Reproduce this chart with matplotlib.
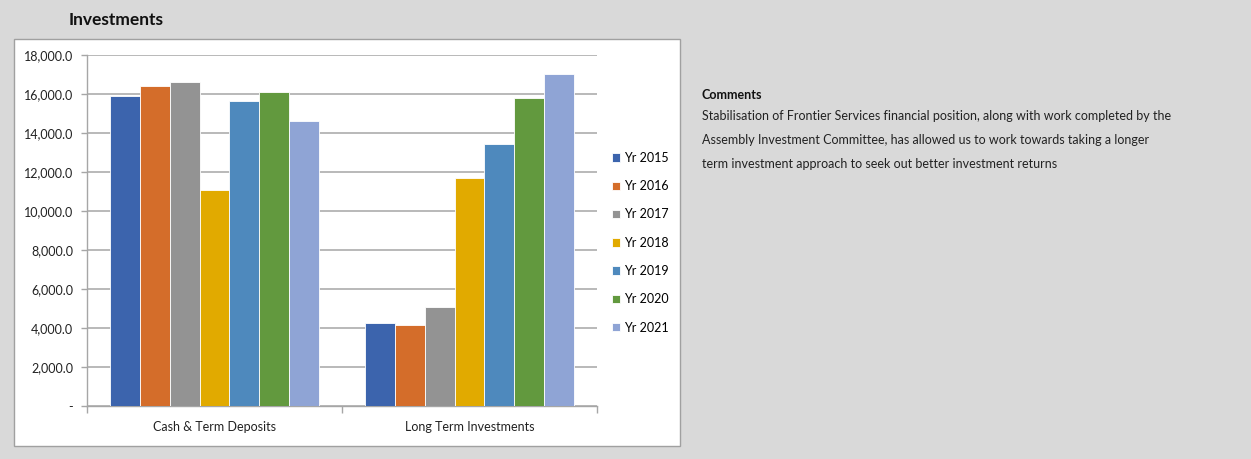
import numpy as np
import matplotlib.pyplot as plt
from matplotlib.patches import Rectangle
from matplotlib.ticker import FuncFormatter

plt.rcParams['font.family'] = ['Lato', 'DejaVu Sans']

categories = ['Cash & Term Deposits', 'Long Term Investments']
years = ['Yr 2015', 'Yr 2016', 'Yr 2017', 'Yr 2018', 'Yr 2019', 'Yr 2020', 'Yr 2021']
cash_term = [15900, 16430, 16600, 11080, 15660, 16090, 14600]
long_term = [4260, 4170, 5080, 11710, 13420, 15800, 17040]
colors = ['#3c64ad', '#d46d2a', '#939393', '#e1aa00', '#4e89bd', '#62993e', '#8fa4d5']

comment_title = 'Comments'
comment_lines = [
    'Stabilisation of Frontier Services financial position, along with work completed by the',
    'Assembly Investment Committee, has allowed us to work towards taking a longer',
    'term investment approach to seek out better investment returns',
]

W, H = 1251, 459
fig = plt.figure(figsize=(W / 100, H / 100), dpi=100)
fig.patch.set_facecolor('#d9d9d9')

# white chart panel
fig.patches.append(Rectangle((14 / W, 1 - 446 / H), (680 - 14) / W, (446 - 39) / H,
                             transform=fig.transFigure, facecolor='white',
                             edgecolor='#a0a0a0', linewidth=1, zorder=-5))

fig.text(69 / W, 1 - 20 / H, 'Investments', fontsize=12.5, fontweight='bold',
         va='center', ha='left', color='#111111')

ax = fig.add_axes([87 / W, 1 - 406 / H, (597 - 87) / W, (406 - 55) / H])
ax.set_zorder(2)
ax.set_facecolor('white')

n = len(years)
group = 0.82
bw = group / n
x = np.arange(len(categories))
for i in range(n):
    vals = [cash_term[i], long_term[i]]
    ax.bar(x - group / 2 + bw * (i + 0.5), vals, width=bw, color=colors[i],
           edgecolor='white', linewidth=0.6, label=years[i], zorder=3)

ax.set_xlim(-0.5, 1.5)
ax.set_ylim(0, 18000)
ax.set_yticks(np.arange(0, 18001, 2000))
ax.yaxis.set_major_formatter(FuncFormatter(lambda v, p: '-' if v == 0 else f'{v:,.1f}'))
ax.grid(axis='y', color='#b3b3b3', linewidth=1.3, zorder=0)

ax.set_xticks([0, 1])
ax.set_xticklabels(categories)
ax.set_xticks([-0.5, 0.5, 1.5], minor=True)
ax.tick_params(axis='x', which='major', length=0, pad=11, labelsize=9, colors='#222222')
ax.tick_params(axis='x', which='minor', length=5, color='#a6a6a6', width=1)
ax.tick_params(axis='y', length=4, color='#a6a6a6', width=1, pad=6, labelsize=9,
               labelcolor='#222222')

for s in ['top', 'right']:
    ax.spines[s].set_visible(False)
ax.spines['left'].set_color('#a6a6a6')
ax.spines['bottom'].set_color('#a6a6a6')
ax.spines['left'].set_linewidth(1)
ax.spines['bottom'].set_linewidth(1)

fig.legend(loc='upper left', bbox_to_anchor=(612 / W, 1 - 152 / H), frameon=False,
           fontsize=9, handlelength=0.65, handleheight=0.65, handletextpad=0.35,
           labelspacing=1.3, borderaxespad=0, borderpad=0)

fig.text(702 / W, 1 - 95 / H, comment_title, fontsize=9, fontweight='bold',
         va='center', ha='left', color='#111111')
for k, line in enumerate(comment_lines):
    fig.text(702 / W, 1 - (116.5 + 24 * k) / H, line, fontsize=9,
             va='center', ha='left', color='#222222')

fig.savefig('out.png', dpi=100, facecolor=fig.get_facecolor())
